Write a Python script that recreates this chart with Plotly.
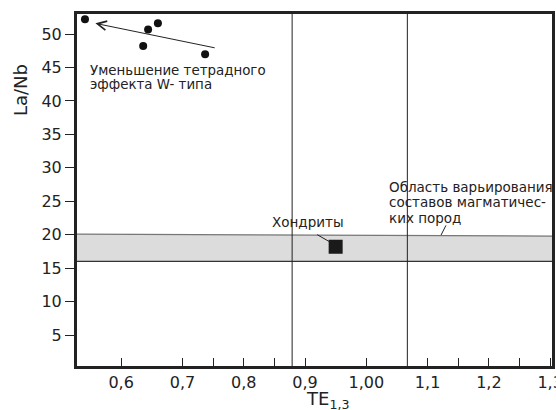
import plotly.graph_objects as go

# ---- data ----
sample_te = [0.541, 0.644, 0.660, 0.636, 0.737]
sample_lanb = [52.2, 50.7, 51.6, 48.2, 47.0]

chondrite_te = [0.950]
chondrite_lanb = [18.2]

band_low = 16.0
band_high_left = 20.1
band_high_right = 19.8

boundary_te = [0.879, 1.067]

trend_from = (0.755, 47.9)
trend_to = (0.558, 51.6)

x_tickvals = [0.6, 0.7, 0.8, 0.9, 1.0, 1.1, 1.2, 1.3]
x_ticktext = ["0,6", "0,7", "0,8", "0,9", "1,00", "1,1", "1,2", "1,3"]
x_minor_ticks = [0.75, 0.85, 1.15, 1.25]
y_tickvals = [5, 10, 15, 20, 25, 30, 35, 40, 45, 50]

X_RANGE = [0.528, 1.303]
Y_RANGE = [0.37, 53.0]

FONT = "DejaVu Sans"
TXT = "#222222"

fig = go.Figure()

fig.add_trace(go.Scatter(
    x=sample_te, y=sample_lanb, mode="markers",
    marker=dict(color="#111111", size=8, symbol="circle"),
    showlegend=False, hoverinfo="skip"))

fig.add_trace(go.Scatter(
    x=chondrite_te, y=chondrite_lanb, mode="markers",
    marker=dict(color="#1a1a1a", size=14, symbol="square"),
    showlegend=False, hoverinfo="skip"))

shapes = []
shapes.append(dict(
    type="path", xref="x", yref="y", layer="below",
    path=(f"M {X_RANGE[0]},{band_high_left} L {X_RANGE[1]},{band_high_right} "
          f"L {X_RANGE[1]},{band_low} L {X_RANGE[0]},{band_low} Z"),
    fillcolor="#dcdcdc", line=dict(width=0)))
shapes.append(dict(type="line", xref="x", yref="y", layer="below",
                   x0=X_RANGE[0], x1=X_RANGE[1], y0=band_high_left, y1=band_high_right,
                   line=dict(color="#777777", width=1.2)))
shapes.append(dict(type="line", xref="x", yref="y", layer="below",
                   x0=X_RANGE[0], x1=X_RANGE[1], y0=band_low, y1=band_low,
                   line=dict(color="#333333", width=1.2)))
for xb in boundary_te:
    shapes.append(dict(type="line", xref="x", yref="paper", layer="above",
                       x0=xb, x1=xb, y0=0, y1=1,
                       line=dict(color="#222222", width=1)))
shapes.append(dict(type="line", xref="x", yref="y",
                   x0=0.920, y0=20.0, x1=0.941, y1=18.9,
                   line=dict(color="#222222", width=1)))
shapes.append(dict(type="line", xref="x", yref="y",
                   x0=1.130, y0=21.4, x1=1.122, y1=19.95,
                   line=dict(color="#222222", width=1)))

annotations = []
annotations.append(dict(
    x=trend_to[0], y=trend_to[1], ax=trend_from[0], ay=trend_from[1],
    xref="x", yref="y", axref="x", ayref="y", text="",
    showarrow=True, arrowhead=5, arrowsize=1.8, arrowwidth=1,
    arrowcolor="#222222"))

def label(text, x, y, size=14, xanchor="left"):
    annotations.append(dict(
        x=x, y=y, xref="x", yref="y", text=text, showarrow=False,
        xanchor=xanchor, yanchor="middle",
        font=dict(family=FONT, size=size, color=TXT)))

label("Уменьшение тетрадного", 0.546, 44.6, 13.4)
label("эффекта W- типа", 0.546, 42.4, 13.4)
label("Хондриты", 0.843, 21.9, 13.5)
label("Область варьирования", 1.034, 27.1, 13.5)
label("составов магматичес-", 1.034, 24.9, 13.5)
label("ких пород", 1.034, 22.5, 13.5)

annotations.append(dict(
    x=(20 - 77) / 475, y=(366 - 90) / 352, xref="paper", yref="paper",
    text="La/Nb", showarrow=False, textangle=-90,
    xanchor="center", yanchor="middle",
    font=dict(family=FONT, size=18, color=TXT)))
annotations.append(dict(
    x=(327 - 77) / 475, y=(366 - 400) / 352, xref="paper", yref="paper",
    text="TE<sub>1,3</sub>", showarrow=False, xanchor="center", yanchor="middle",
    font=dict(family=FONT, size=18, color=TXT)))

fig.update_layout(
    width=556, height=410, autosize=False,
    margin=dict(l=77, r=4, t=14, b=44, autoexpand=False),
    paper_bgcolor="white", plot_bgcolor="white",
    shapes=shapes, annotations=annotations,
    showlegend=False,
    xaxis=dict(
        range=X_RANGE, tickmode="array", tickvals=x_tickvals, ticktext=x_ticktext,
        ticks="inside", ticklen=8, tickwidth=1, tickcolor="#222222",
        ticklabeloverflow="allow", automargin=False,
        showgrid=False, zeroline=False,
        showline=True, linecolor="#222222", linewidth=3, mirror=True,
        tickfont=dict(family=FONT, size=16, color=TXT),
        minor=dict(tickmode="array", tickvals=x_minor_ticks, ticks="inside",
                   ticklen=8, tickwidth=1, tickcolor="#222222", showgrid=False),
    ),
    yaxis=dict(
        range=Y_RANGE, tickmode="array", tickvals=y_tickvals,
        ticks="outside", ticklen=9, tickwidth=1, tickcolor="#222222",
        automargin=False,
        showgrid=False, zeroline=False,
        showline=True, linecolor="#222222", linewidth=3, mirror=True,
        tickfont=dict(family=FONT, size=16, color=TXT),
    ),
)

fig.write_html("out.html", config={"displayModeBar": False},
               post_script="document.body.style.margin='0';document.body.style.padding='0';")
